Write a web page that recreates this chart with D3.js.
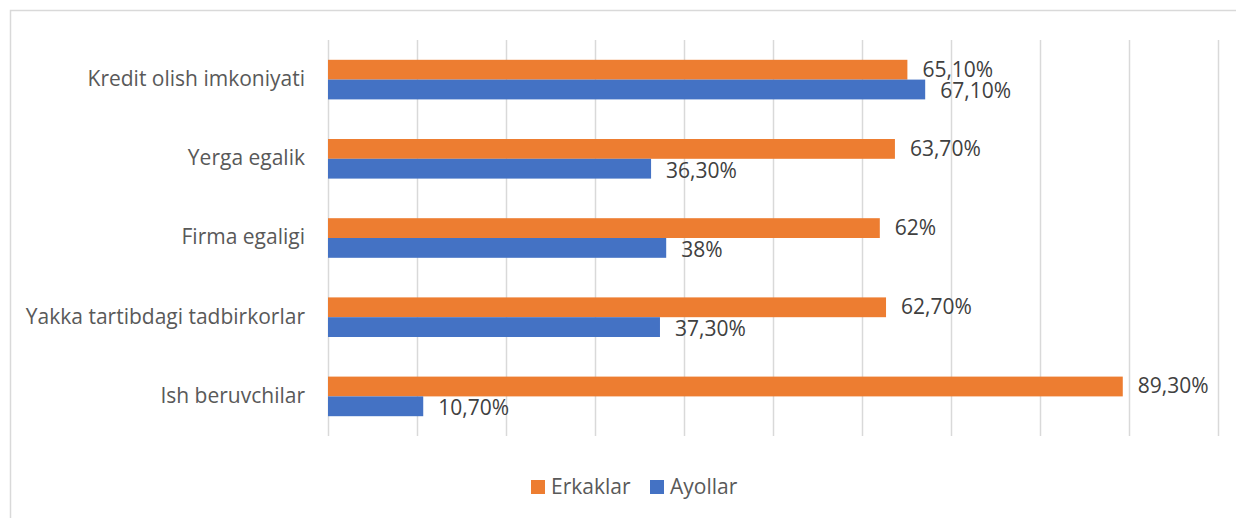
<!DOCTYPE html>
<html>
<head>
<meta charset="utf-8">
<script src="https://cdn.jsdelivr.net/npm/d3@7"></script>
<style>
  body { margin: 0; background: #fff; }
  text { font-family: "Open Sans", sans-serif; }
</style>
</head>
<body>
<div id="chart"></div>
<script>
// chart data
var categories = ["Kredit olish imkoniyati", "Yerga egalik", "Firma egaligi", "Yakka tartibdagi tadbirkorlar", "Ish beruvchilar"];
var seriesNames = ["Erkaklar", "Ayollar"];
var erkaklar = [65.1, 63.7, 62, 62.7, 89.3];
var ayollar = [67.1, 36.3, 38, 37.3, 10.7];
var erkaklarLabels = ["65,10%", "63,70%", "62%", "62,70%", "89,30%"];
var ayollarLabels = ["67,10%", "36,30%", "38%", "37,30%", "10,70%"];
var xTicks = [0, 10, 20, 30, 40, 50, 60, 70, 80, 90, 100];

var width = 1236;
var height = 518;
var colors = ["#ed7d31", "#4472c4"];
var plot = {left: 328, right: 1218, top: 40, bottom: 436};
var fontSize = 21;
// small vertical nudge of value labels so the two in a group sit apart
var labelNudge = [-0.5, 1.5];

var svg = d3.select("#chart").append("svg")
            .attr("width", width)
            .attr("height", height);

// outer chart border
svg.append("rect")
   .attr("x", 10.5).attr("y", 10.5)
   .attr("width", width).attr("height", height)
   .attr("fill", "none")
   .attr("stroke", "#d9d9d9")
   .attr("stroke-width", 1.5);

var x = d3.scaleLinear().domain([0, 100]).range([plot.left, plot.right]);
var y = d3.scaleBand().domain(categories).range([plot.top, plot.bottom])
          .paddingInner(0.5).paddingOuter(0.25);
var sub = d3.scaleBand().domain(seriesNames).range([0, y.bandwidth()]);

// vertical gridlines
svg.append("g").selectAll("line")
   .data(xTicks)
   .enter().append("line")
   .attr("x1", function(d) { return Math.round(x(d)) + 0.5; })
   .attr("x2", function(d) { return Math.round(x(d)) + 0.5; })
   .attr("y1", plot.top)
   .attr("y2", plot.bottom)
   .attr("stroke", "#d9d9d9")
   .attr("stroke-width", 1.5);

// category labels
svg.append("g").selectAll("text")
   .data(categories)
   .enter().append("text")
   .attr("x", plot.left - 23)
   .attr("y", function(d) { return y(d) + y.bandwidth() / 2 - 1; })
   .attr("dy", "0.35em")
   .attr("text-anchor", "end")
   .attr("font-size", fontSize)
   .attr("fill", "#595959")
   .text(function(d) { return d; });

var series = [erkaklar, ayollar];
var seriesLabels = [erkaklarLabels, ayollarLabels];

series.forEach(function(values, s) {
  var g = svg.append("g");
  g.selectAll("rect")
   .data(values)
   .enter().append("rect")
   .attr("x", x(0))
   .attr("y", function(d, i) { return y(categories[i]) + sub(seriesNames[s]); })
   .attr("width", function(d) { return x(d) - x(0); })
   .attr("height", sub.bandwidth())
   .attr("fill", colors[s]);

  g.selectAll("text")
   .data(values)
   .enter().append("text")
   .attr("x", function(d) { return x(d) + 15; })
   .attr("y", function(d, i) { return y(categories[i]) + sub(seriesNames[s]) + sub.bandwidth() / 2 + labelNudge[s]; })
   .attr("dy", "0.35em")
   .attr("font-size", fontSize)
   .attr("fill", "#404040")
   .text(function(d, i) { return seriesLabels[s][i]; });
});

// legend
var legendX = [531, 650];
var legend = svg.append("g").selectAll("g")
   .data(seriesNames)
   .enter().append("g")
   .attr("transform", function(d, i) { return "translate(" + legendX[i] + ",487)"; });

legend.append("rect")
   .attr("x", 0).attr("y", -7)
   .attr("width", 14).attr("height", 14)
   .attr("fill", function(d, i) { return colors[i]; });

legend.append("text")
   .attr("x", 20)
   .attr("dy", "0.35em")
   .attr("font-size", fontSize)
   .attr("fill", "#595959")
   .text(function(d) { return d; });
</script>
</body>
</html>
